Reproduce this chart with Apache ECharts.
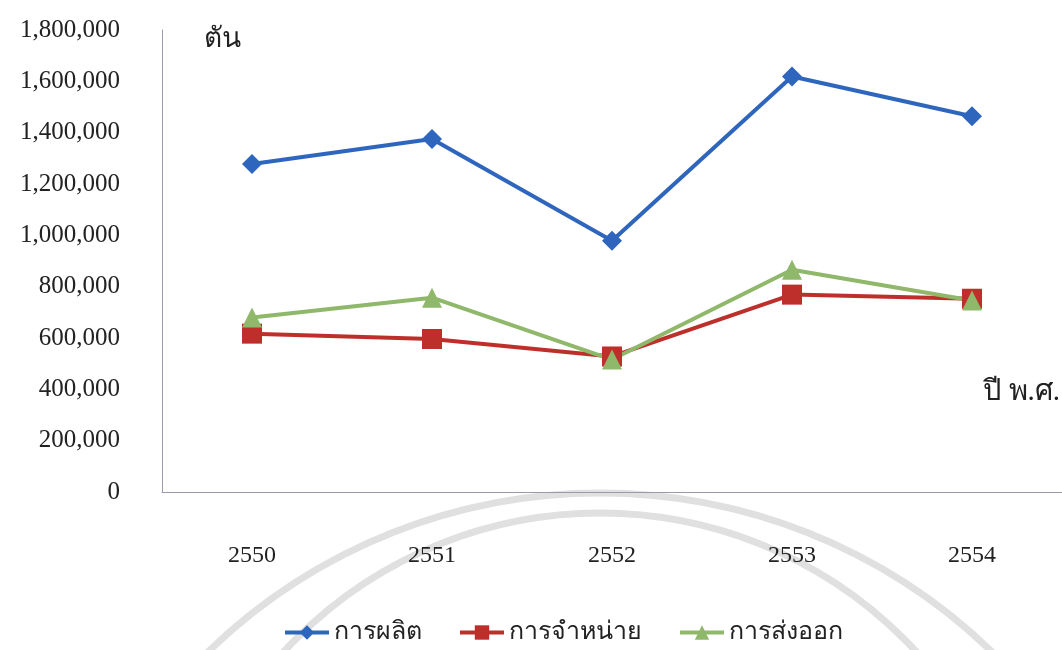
<!DOCTYPE html>
<html>
<head>
<meta charset="utf-8">
<script src="https://cdn.jsdelivr.net/npm/echarts@6/dist/echarts.min.js"></script>
<style>
  html, body { margin: 0; padding: 0; background: #fff; }
  #Chart { width: 1062px; height: 650px; }
</style>
</head>
<body>
<div id="Chart"></div>
<script>
var years = ['2550', '2551', '2552', '2553', '2554'];
var production = [1278000, 1375000, 979000, 1619000, 1464000];
var sales = [617000, 596000, 528000, 769000, 753000];
var exports = [680000, 757000, 516000, 866000, 746000];
var yTicks = { min: 0, max: 1800000, interval: 200000 };

var Chart = echarts.init(document.getElementById('Chart'));

var serif = 'Liberation Serif, Times New Roman, serif';

function lineSeries(name, data, color, symbol, size) {
    return {
        name: name,
        type: 'line',
        data: data,
        symbol: symbol,
        symbolSize: size,
        lineStyle: { color: color, width: 4 },
        itemStyle: { color: color },
        emphasis: { disabled: true }
    };
}

var ChartOption = {
    animation: false,
    backgroundColor: '#fff',
    textStyle: { fontFamily: serif },
    grid: { left: 162, right: 0, top: 30, bottom: 158 },
    graphic: [
        // faded watermark arcs behind the bottom of the chart
        { type: 'circle', z: -10, silent: true, shape: { cx: 600, cy: 1056, r: 563 },
          style: { fill: 'none', stroke: '#e0e0e0', lineWidth: 7 } },
        { type: 'circle', z: -10, silent: true, shape: { cx: 600, cy: 943, r: 430 },
          style: { fill: 'none', stroke: '#e0e0e0', lineWidth: 7 } },
        { type: 'text', left: 204, top: 26,
          style: { text: 'ตัน', font: '28px ' + serif, fill: '#222' } },
        { type: 'text', right: 2, top: 378,
          style: { text: 'ปี พ.ศ.', font: '29px ' + serif, fill: '#222' } }
    ],
    legend: {
        bottom: 0,
        left: 278,
        itemWidth: 44,
        itemHeight: 18,
        itemGap: 36,
        lineStyle: { width: 4 },
        textStyle: { fontSize: 25, color: '#222', fontFamily: serif },
        data: ['การผลิต', 'การจำหน่าย', 'การส่งออก']
    },
    xAxis: {
        type: 'category',
        data: years,
        boundaryGap: true,
        axisLine: { lineStyle: { color: '#9a9aa8', width: 1 } },
        axisTick: { show: false },
        axisLabel: { margin: 52, fontSize: 24, color: '#222', fontFamily: serif }
    },
    yAxis: {
        type: 'value',
        min: yTicks.min,
        max: yTicks.max,
        interval: yTicks.interval,
        axisLine: { show: true, lineStyle: { color: '#9a9aa8', width: 1 } },
        axisTick: { show: false },
        splitLine: { show: false },
        axisLabel: {
            margin: 42,
            fontSize: 25,
            color: '#222',
            fontFamily: serif,
            formatter: function (v) { return v.toLocaleString('en-US'); }
        }
    },
    series: [
        lineSeries('การผลิต', production, '#2f66bd', 'diamond', 20),
        lineSeries('การจำหน่าย', sales, '#be2f2b', 'rect', 20),
        lineSeries('การส่งออก', exports, '#8fb86a', 'triangle', 20)
    ]
};

Chart.setOption(ChartOption);
window.addEventListener("resize", function () {
    Chart.resize();
});
</script>
</body>
</html>
